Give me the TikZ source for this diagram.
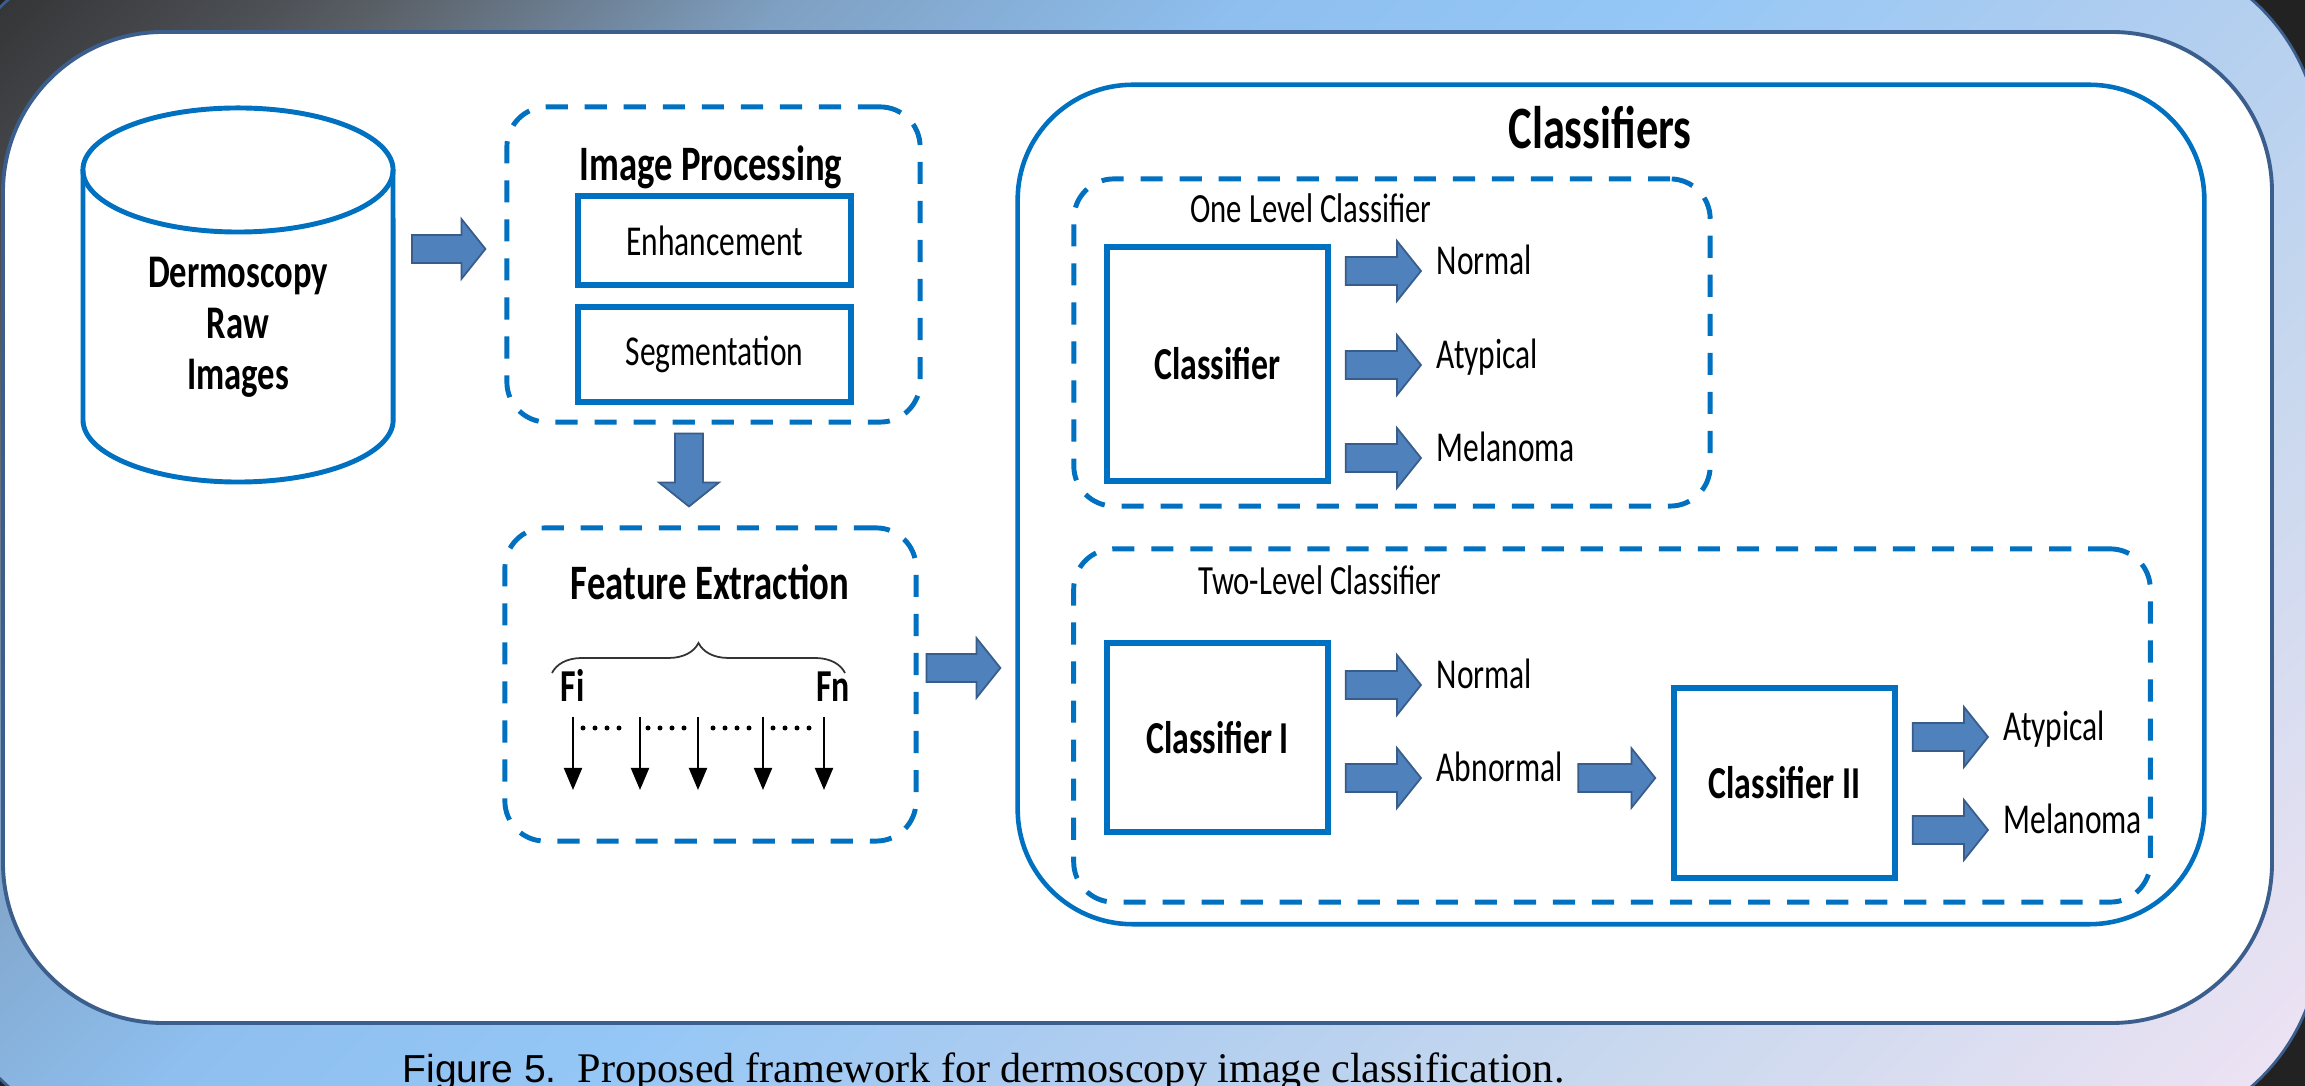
\documentclass[tikz,border=0pt]{standalone}
\usepackage{fontspec}
\setmainfont{Carlito}[FakeStretch=0.74]
\newfontfamily\capsans{Liberation Sans}
\newfontfamily\capserif{Liberation Serif}
\usepackage{tikz}
\usetikzlibrary{calc,arrows.meta,decorations.pathreplacing}

\definecolor{boxblue}{HTML}{0070C0}
\definecolor{arrowfill}{HTML}{4F81BD}
\definecolor{arrowline}{HTML}{385D8A}
\definecolor{slideline}{HTML}{3B5E8C}
\definecolor{pageblack}{HTML}{222222}
\definecolor{bgA}{HTML}{2B2B2B}
\definecolor{bgB}{HTML}{4B4E53}
\definecolor{bgC}{HTML}{5B6168}
\definecolor{bgD}{HTML}{7FA0C2}
\definecolor{bgE}{HTML}{8EBFEF}
\definecolor{bgF}{HTML}{95C7F6}
\definecolor{bgG}{HTML}{ACCCF0}
\definecolor{bgH}{HTML}{C8D8EE}
\definecolor{bgI}{HTML}{F2E4F4}
\pgfdeclarehorizontalshading{slideshade}{100bp}{color(0bp)=(bgA); color(14.6bp)=(bgA); color(21.7bp)=(bgB); color(24.5bp)=(bgC); color(32.3bp)=(bgD); color(41.5bp)=(bgE); color(50bp)=(bgF); color(58.5bp)=(bgG); color(69.8bp)=(bgH); color(85.4bp)=(bgI); color(100bp)=(bgI)}

% block arrow sizes (pt)
\newcommand\barlen{6.8}
\newcommand\barshaft{4.0}
\newcommand\barhead{8.5}

\begin{document}
\begin{tikzpicture}[x=0.01cm, y=-0.01cm,
    dashbox/.style={draw=boxblue, line width=1.4pt, dash pattern=on 6.3pt off 4.8pt, rounded corners=0.4cm},
    solidbox/.style={draw=boxblue, line width=1.5pt},
    outerbox/.style={draw=boxblue, line width=1.3pt, rounded corners=1.15cm},
    boldlab/.style={font=\bfseries\fontsize{13}{15}\selectfont},
    headlab/.style={font=\bfseries\fontsize{14.1}{16}\selectfont, anchor=base},
    lab/.style={font=\fontsize{12.1}{14}\selectfont, anchor=base west, inner sep=0pt},
    title/.style={font=\fontsize{11.8}{13}\selectfont, anchor=base, inner sep=0pt},
    featarrow/.style={line width=0.6pt, -{Triangle[length=0.22cm, width=0.18cm]}},
    barrow/.style={draw=arrowline, fill=arrowfill, line width=0.5pt,
      to path={let \p1=(\tikztostart), \p2=(\tikztotarget),
          \n1={veclen(\x2-\x1,\y2-\y1)}, \n2={(\x2-\x1)/\n1}, \n3={(\y2-\y1)/\n1},
          \n4={\n1-\barlen} in
        ({\x1-\barshaft*(\n3)},{\y1+\barshaft*(\n2)})
        -- ({\x1+\n4*(\n2)-\barshaft*(\n3)},{\y1+\n4*(\n3)+\barshaft*(\n2)})
        -- ({\x1+\n4*(\n2)-\barhead*(\n3)},{\y1+\n4*(\n3)+\barhead*(\n2)})
        -- (\p2)
        -- ({\x1+\n4*(\n2)+\barhead*(\n3)},{\y1+\n4*(\n3)-\barhead*(\n2)})
        -- ({\x1+\n4*(\n2)+\barshaft*(\n3)},{\y1+\n4*(\n3)-\barshaft*(\n2)})
        -- ({\x1+\barshaft*(\n3)},{\y1-\barshaft*(\n2)}) -- cycle}}
  ]
  \useasboundingbox (0,0) rectangle (2305,1086);
  \clip (0,0) rectangle (2305,1086);

  % Draw the slide and the white panel
  \fill[pageblack] (0,0) rectangle (2305,1086);
  \shade[shading=slideshade, shading angle=-45, rounded corners=2cm] (-60,-50) rectangle (2320,1136);
  \draw[slideline, line width=0.8pt, rounded corners=2cm] (-60,-50) rectangle (2320,1136);
  \draw[slideline, fill=white, line width=1.1pt, rounded corners=1.6cm] (3,32) rectangle (2272,1023);

  % Draw the database
  \draw[boxblue, line width=1.4pt] (83,170) -- (83,420) arc[start angle=180, end angle=360, x radius=1.55cm, y radius=0.62cm] -- (393,170);
  \draw[boxblue, line width=1.4pt] (238,170) ellipse[x radius=1.55cm, y radius=0.62cm];
  \node[font=\bfseries\fontsize{13.3}{14.5}\selectfont, align=center] (raw) at (238,327) {Dermoscopy\\Raw\\Images};
  \coordinate (cylE) at (393,249);

  % Define the processing blocks
  \node[dashbox, minimum width=4.13cm, minimum height=3.15cm] (proc) at (713.5,264.5) {};
  \node[headlab] at (711,181) {Image Processing};
  \node[solidbox, minimum width=2.73cm, minimum height=0.89cm, font=\fontsize{12.1}{14}\selectfont] (enh) at (714.5,240.5) {Enhancement};
  \node[solidbox, minimum width=2.73cm, minimum height=0.95cm, font=\fontsize{12.1}{14}\selectfont] (seg) at (714.5,354.5) {Segmentation};

  \node[dashbox, minimum width=4.11cm, minimum height=3.13cm] (feat) at (710.5,684.5) {};
  \node[headlab] at (710,600) {Feature Extraction};
  \node[boldlab, anchor=base west, inner sep=0pt] (fi) at (560,702) {Fi};
  \node[boldlab, anchor=base east, inner sep=0pt] (fn) at (850,702) {Fn};
  \draw[black!80, line width=0.5pt, decorate, decoration={brace, amplitude=0.3cm}] ($(fi.base west)+(-8,-29)$) -- ($(fn.base east)+(-5,-29)$);
  \foreach \x in {573,640,698,763,824}
    \draw[featarrow] (\x,717) -- (\x,790);
  \foreach \x in {583,648,713,773}
    \foreach \k in {0,...,3}
      \fill (\x+12*\k,728) circle[radius=0.025cm];

  % Define the classifiers
  \node[outerbox, minimum width=11.86cm, minimum height=8.39cm] (clfs) at (1611,504.5) {};
  \node[font=\bfseries\fontsize{17.1}{19}\selectfont, anchor=base] at (1600,149) {Classifiers};

  \node[dashbox, minimum width=6.36cm, minimum height=3.27cm] (one) at (1392,342.5) {};
  \node[title] at (1311,223) {One Level Classifier};
  \node[solidbox, boldlab, minimum width=2.21cm, minimum height=2.34cm] (clf) at (1217.5,364) {Classifier};
  \node[lab] (n1) at (1436,275) {Normal};
  \node[lab] (a1) at (1436,369) {Atypical};
  \node[lab] (m1) at (1436,462) {Melanoma};

  \node[dashbox, minimum width=10.76cm, minimum height=3.53cm] (two) at (1612,725.5) {};
  \node[title] at (1320,595) {Two-Level Classifier};
  \node[solidbox, boldlab, minimum width=2.21cm, minimum height=1.89cm] (clfI) at (1217.5,737.5) {Classifier I};
  \node[solidbox, boldlab, minimum width=2.21cm, minimum height=1.90cm] (clfII) at (1784.5,783) {Classifier II};
  \node[lab] (n2) at (1436,689) {Normal};
  \node[lab] (ab2) at (1436,782) {Abnormal};
  \node[lab] (a2) at (2003,741) {Atypical};
  \node[lab] (m2) at (2003,834) {Melanoma};

  % Draw the block arrows
  \draw[barrow] ($(cylE)+(19,0)$) to ($(proc.west |- cylE)+(-19,0)$);
  \draw[barrow] ($(proc.south)+(-24.5,9)$) to ($(proc.south |- feat.north)+(-24.5,-19)$);
  \draw[barrow] ($(feat.east)+(8,-16.5)$) to ($(clfs.west |- feat.east)+(-15,-16.5)$);
  \foreach \t in {n1,a1,m1}
    \draw[barrow] ($(clf.east |- \t.base)+(15,-4)$) to ($(\t.base west)+(-15,-4)$);
  \foreach \t in {n2,ab2}
    \draw[barrow] ($(clfI.east |- \t.base)+(15,-4)$) to ($(\t.base west)+(-15,-4)$);
  \draw[barrow] ($(clfII.west |- ab2.base)+(-93,-4)$) to ($(clfII.west |- ab2.base)+(-16,-4)$);
  \foreach \t in {a2,m2}
    \draw[barrow] ($(clfII.east |- \t.base)+(15,-4)$) to ($(\t.base west)+(-15,-4)$);

  % Caption
  \node[anchor=base west, inner sep=0pt] (cap) at (402,1083) {{\capsans\fontsize{11.1}{13}\selectfont Figure 5.}\hspace{6pt}{\capserif\fontsize{12}{14}\selectfont Proposed framework for dermoscopy image classification.}};
\end{tikzpicture}
\end{document}
